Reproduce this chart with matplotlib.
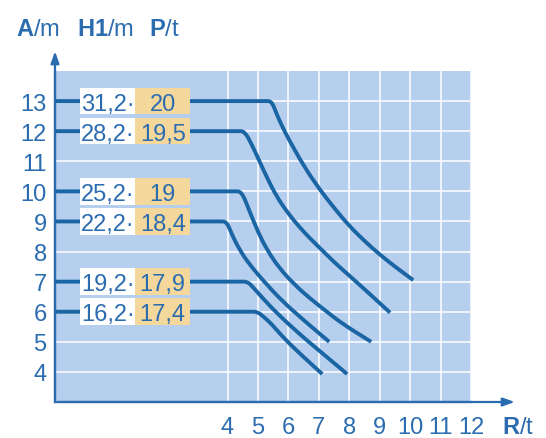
import matplotlib
matplotlib.use("Agg")
import matplotlib.pyplot as plt
from matplotlib.patches import Rectangle, PathPatch
from matplotlib.path import Path

plt.rcParams['font.family'] = ['Liberation Sans', 'DejaVu Sans']
plt.rcParams['mathtext.fontset'] = 'custom'
plt.rcParams['mathtext.rm'] = 'Liberation Sans'
plt.rcParams['mathtext.bf'] = 'Liberation Sans:bold'

# A/m levels with their H1/m and P/t labels
heights = [13, 12, 10, 9, 7, 6]
h1_labels = ["31,2", "28,2", "25,2", "22,2", "19,2", "16,2"]
p_labels = ["20", "19,5", "19", "18,4", "17,9", "17,4"]

# curve points (R/t, A/m), starting at the knee
curve_x = [
    [5.45, 5.60, 5.80, 6.00, 6.50, 7.00, 7.50, 8.00, 8.50, 9.00, 9.50, 10.10],
    [4.56, 4.80, 5.05, 5.30, 5.60, 6.00, 6.50, 7.00, 7.50, 8.00, 8.50, 9.34],
    [4.46, 4.70, 5.00, 5.30, 5.70, 6.20, 6.70, 7.20, 7.77, 8.72],
    [3.97, 4.15, 4.40, 4.70, 5.20, 5.80, 6.50, 7.34],
    [4.66, 4.85, 5.11, 5.64, 6.43, 7.02, 7.93],
    [4.98, 5.20, 5.44, 5.87, 6.46, 7.11],
]
curve_y = [
    [13.0, 12.6, 12.15, 11.75, 10.85, 10.1, 9.45, 8.85, 8.35, 7.9, 7.5, 7.05],
    [12.0, 11.55, 11.0, 10.45, 9.85, 9.25, 8.65, 8.15, 7.65, 7.2, 6.75, 5.97],
    [10.0, 9.4, 8.65, 8.05, 7.45, 6.9, 6.45, 6.05, 5.6, 5.0],
    [9.0, 8.55, 8.05, 7.6, 7.0, 6.35, 5.72, 5.0],
    [7.0, 6.8, 6.5, 5.93, 5.2, 4.7, 3.93],
    [6.0, 5.82, 5.6, 5.1, 4.53, 3.93],
]

y_ticks = list(range(4, 14))
x_ticks = list(range(4, 13))

bg = '#b7cfee'
line_c = '#1a65a3'
text_c = '#2b6cb0'
tan = '#f4d79b'


def smooth_path(pts, lead=0.12):
    # straight lead-in, rounded knee, then quadratic pieces through midpoints
    verts = [pts[0], (pts[1][0] - lead, pts[1][1])]
    codes = [Path.MOVETO, Path.LINETO]
    for i in range(1, len(pts) - 1):
        mid = ((pts[i][0] + pts[i + 1][0]) / 2, (pts[i][1] + pts[i + 1][1]) / 2)
        verts += [pts[i], mid]
        codes += [Path.CURVE3, Path.CURVE3]
    verts.append(pts[-1])
    codes.append(Path.LINETO)
    return Path(verts, codes)


fig = plt.figure(figsize=(5.46, 4.39), dpi=100)
ax = fig.add_axes([55 / 546, 36 / 439, 416 / 546, 331 / 439])
ax.set_facecolor(bg)
ax.set_xlim(-1.67, 12)
ax.set_ylim(3, 14)

ax.set_yticks(y_ticks)
ax.set_xticks(x_ticks)
ax.tick_params(axis='y', length=0, pad=6, labelsize=17, labelcolor=text_c)
ax.tick_params(axis='x', length=0, pad=10, labelsize=17, labelcolor=text_c)
ax.grid(True, color='white', linewidth=1.1, zorder=0)
ax.set_axisbelow(True)

for s in ['top', 'right']:
    ax.spines[s].set_visible(False)
for s in ['left', 'bottom']:
    ax.spines[s].set_color(text_c)
    ax.spines[s].set_linewidth(1.6)

# axis arrows
arrow = dict(arrowstyle='-|>,head_width=0.25,head_length=0.7', color=text_c, lw=1.6)
ax.annotate('', xy=(0, 1.068), xytext=(0, 0), xycoords='axes fraction', arrowprops=arrow, annotation_clip=False)
ax.annotate('', xy=(1.112, 0), xytext=(0, 0), xycoords='axes fraction', arrowprops=arrow, annotation_clip=False)

x0 = ax.get_xlim()[0]
for h, h1, p, xs, ys in zip(heights, h1_labels, p_labels, curve_x, curve_y):
    pts = [(x0, h)] + list(zip(xs, ys))
    ax.add_patch(PathPatch(smooth_path(pts), facecolor='none', edgecolor=line_c, lw=2.8,
                           joinstyle='round', capstyle='butt', zorder=3, clip_on=False))
    ax.add_patch(Rectangle((-0.84, h - 0.44), 1.81, 0.88, facecolor='white', edgecolor='none', zorder=4))
    ax.add_patch(Rectangle((0.97, h - 0.44), 1.81, 0.88, facecolor=tan, edgecolor='none', zorder=4))
    ax.text(0.07, h, h1 + "\u00b7", ha='center', va='center_baseline', fontsize=17, color=text_c, zorder=5)
    ax.text(1.87, h, p, ha='center', va='center_baseline', fontsize=17, color=text_c, zorder=5)

fig.text(16 / 546, 0.918, r'$\mathbf{A}$/m', fontsize=17, color=text_c, va='baseline')
fig.text(77 / 546, 0.918, r'$\mathbf{H1}$/m', fontsize=17, color=text_c, va='baseline')
fig.text(149 / 546, 0.918, r'$\mathbf{P}$/t', fontsize=17, color=text_c, va='baseline')
fig.text(502 / 546, 0.025, r'$\mathbf{R}$/t', fontsize=17, color=text_c, va='center')

fig.savefig("out.png", dpi=100)
